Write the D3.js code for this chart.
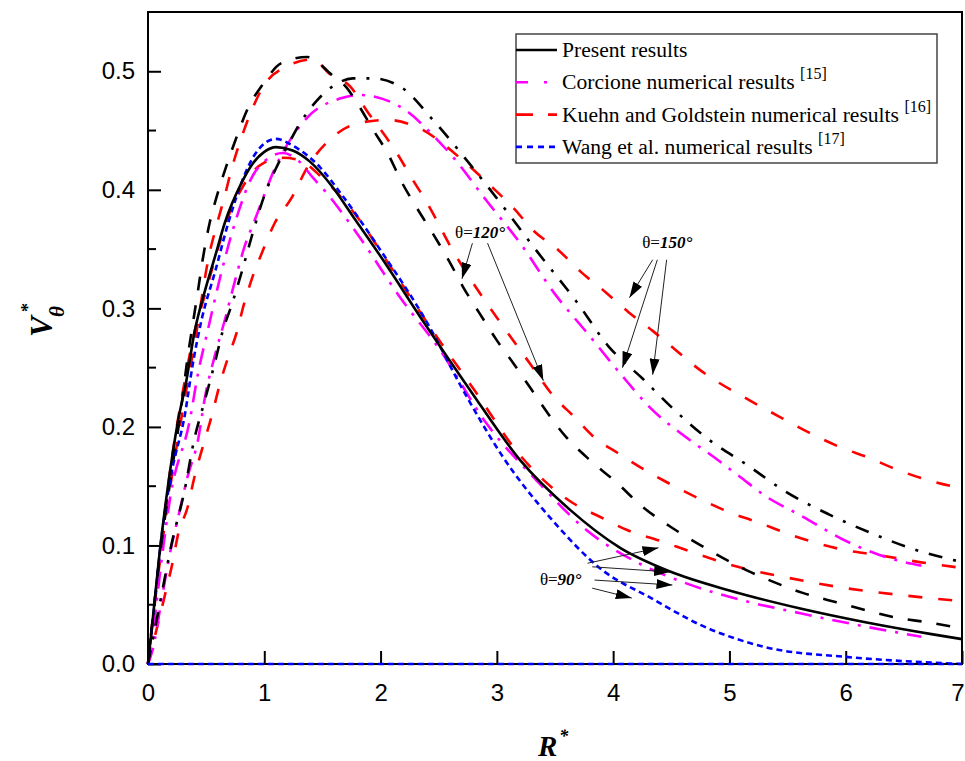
<!DOCTYPE html>
<html>
<head>
<meta charset="utf-8">
<script src="https://cdn.jsdelivr.net/npm/d3@7"></script>
<style>
  body { margin: 0; background: #fff; }
  svg { display: block; }
</style>
</head>
<body>
<svg id="chart" width="965" height="761"></svg>
<script>
// ---- data (R*, V*θ) ----
const xTicks = [0, 1, 2, 3, 4, 5, 6, 7];
const yTicks = [0.0, 0.1, 0.2, 0.3, 0.4, 0.5];
const yMinorTicks = [0.05, 0.15, 0.25, 0.35, 0.45];

// theta = 90
const rPresent90 = [0, 0.04, 0.1, 0.17, 0.26, 0.33, 0.4, 0.49, 0.58, 0.66, 0.8, 0.9, 1.0, 1.1, 1.25, 1.39, 1.59, 1.76, 2.02, 2.36, 2.77, 3.2, 3.63, 4.06, 4.49, 5.0, 5.6, 6.18, 6.75, 7.0];
const vPresent90 = [0, 0.037, 0.094, 0.149, 0.206, 0.239, 0.28, 0.315, 0.345, 0.372, 0.405, 0.422, 0.432, 0.436, 0.433, 0.424, 0.402, 0.378, 0.341, 0.29, 0.231, 0.172, 0.13, 0.098, 0.078, 0.062, 0.047, 0.035, 0.025, 0.021];

const rWang90 = [0, 0.05, 0.12, 0.2, 0.32, 0.38, 0.46, 0.58, 0.69, 0.82, 0.92, 1.1, 1.25, 1.48, 1.65, 2.0, 2.4, 2.71, 3.05, 3.48, 3.91, 4.32, 4.75, 5.32, 6.0, 6.58, 7.0];
const vWang90 = [0, 0.045, 0.11, 0.16, 0.212, 0.25, 0.29, 0.332, 0.372, 0.41, 0.43, 0.443, 0.437, 0.419, 0.398, 0.349, 0.288, 0.231, 0.175, 0.121, 0.079, 0.056, 0.033, 0.014, 0.006, 0.002, 0.0];

const rCorcione90 = [0, 0.04, 0.12, 0.19, 0.36, 0.43, 0.52, 0.62, 0.72, 0.79, 0.88, 1.0, 1.16, 1.3, 1.42, 1.54, 1.65, 1.82, 2.17, 2.51, 2.91, 3.34, 3.77, 4.2, 4.63, 5.1, 5.6, 6.2, 6.65];
const vCorcione90 = [0, 0.025, 0.09, 0.14, 0.206, 0.245, 0.284, 0.326, 0.363, 0.385, 0.408, 0.424, 0.431, 0.424, 0.41, 0.397, 0.383, 0.36, 0.309, 0.265, 0.203, 0.155, 0.113, 0.086, 0.068, 0.054, 0.043, 0.031, 0.023];

const rKuehn90 = [0, 0.1, 0.2, 0.3, 0.4, 0.5, 0.6, 0.7, 0.8, 0.9, 1.0, 1.16, 1.3, 1.5, 1.8, 2.1, 2.4, 2.8, 3.2, 3.65, 3.89, 4.12, 4.4, 4.69, 5.03, 5.49, 6.0, 6.49, 7.0];
const vKuehn90 = [0, 0.09, 0.17, 0.23, 0.28, 0.315, 0.35, 0.38, 0.4, 0.415, 0.423, 0.427, 0.425, 0.41, 0.377, 0.333, 0.288, 0.232, 0.176, 0.136, 0.124, 0.113, 0.104, 0.094, 0.083, 0.073, 0.064, 0.058, 0.053];

// theta = 120
const rPresent120 = [0, 0.1, 0.2, 0.28, 0.34, 0.39, 0.43, 0.47, 0.53, 0.59, 0.67, 0.76, 0.86, 0.98, 1.15, 1.37, 1.58, 1.71, 1.8, 1.94, 2.06, 2.19, 2.31, 2.45, 2.6, 2.71, 2.85, 3.0, 3.14, 3.28, 3.6, 3.8, 4.03, 4.26, 4.49, 4.72, 5.15, 5.41, 5.63, 5.92, 6.15, 6.44, 6.72, 7.0];
const vPresent120 = [0, 0.09, 0.16, 0.212, 0.258, 0.29, 0.315, 0.341, 0.372, 0.394, 0.419, 0.444, 0.469, 0.488, 0.507, 0.512, 0.497, 0.486, 0.473, 0.45, 0.431, 0.405, 0.385, 0.363, 0.338, 0.318, 0.296, 0.273, 0.254, 0.234, 0.191, 0.172, 0.153, 0.132, 0.116, 0.102, 0.079, 0.068, 0.06, 0.052, 0.046, 0.039, 0.035, 0.03];

const rKuehn120 = [0, 0.1, 0.2, 0.3, 0.4, 0.53, 0.59, 0.66, 0.72, 0.8, 0.9, 0.99, 1.17, 1.42, 1.56, 1.74, 1.88, 2.14, 2.28, 2.4, 2.62, 2.88, 3.03, 3.31, 3.47, 3.67, 3.84, 4.04, 4.25, 4.43, 4.75, 5.0, 5.26, 5.5, 5.75, 6.0, 6.27, 6.7, 7.0];
const vKuehn120 = [0, 0.085, 0.155, 0.215, 0.27, 0.347, 0.37, 0.395, 0.418, 0.443, 0.469, 0.487, 0.503, 0.51, 0.498, 0.487, 0.467, 0.431, 0.408, 0.389, 0.349, 0.309, 0.288, 0.25, 0.228, 0.208, 0.191, 0.178, 0.165, 0.155, 0.139, 0.128, 0.119, 0.11, 0.102, 0.096, 0.092, 0.085, 0.081];

// theta = 150
const rPresent150 = [0, 0.1, 0.2, 0.32, 0.39, 0.49, 0.58, 0.64, 0.72, 0.81, 0.89, 1.0, 1.1, 1.2, 1.3, 1.45, 1.6, 1.76, 1.93, 2.17, 2.45, 2.74, 3.03, 3.33, 3.69, 3.96, 4.25, 4.53, 4.8, 5.15, 5.49, 5.86, 6.23, 6.61, 7.0];
const vPresent150 = [0, 0.05, 0.1, 0.149, 0.186, 0.223, 0.256, 0.28, 0.303, 0.332, 0.36, 0.395, 0.418, 0.437, 0.455, 0.475, 0.488, 0.494, 0.494, 0.487, 0.459, 0.425, 0.389, 0.35, 0.305, 0.268, 0.241, 0.214, 0.191, 0.168, 0.145, 0.126, 0.11, 0.096, 0.086];

const rCorcione150 = [0, 0.04, 0.12, 0.19, 0.26, 0.34, 0.43, 0.49, 0.58, 0.66, 0.75, 0.83, 0.92, 1.1, 1.37, 1.65, 1.82, 2.17, 2.49, 2.62, 2.91, 3.2, 3.5, 3.77, 4.07, 4.32, 4.63, 4.86, 5.09, 5.32, 5.6, 6.04, 6.35, 6.65];
const vCorcione150 = [0, 0.012, 0.056, 0.094, 0.124, 0.158, 0.189, 0.225, 0.262, 0.29, 0.324, 0.352, 0.375, 0.42, 0.461, 0.477, 0.48, 0.47, 0.442, 0.428, 0.391, 0.355, 0.312, 0.28, 0.244, 0.216, 0.191, 0.175, 0.158, 0.141, 0.126, 0.102, 0.09, 0.083];

const rKuehn150 = [0, 0.15, 0.21, 0.26, 0.34, 0.4, 0.47, 0.55, 0.62, 0.69, 0.77, 0.81, 0.89, 0.98, 1.09, 1.24, 1.37, 1.56, 1.8, 2.06, 2.31, 2.74, 2.94, 3.14, 3.31, 3.53, 3.72, 3.93, 4.13, 4.34, 4.56, 4.72, 5.2, 5.46, 5.69, 5.95, 6.2, 6.44, 6.71, 7.0];
const vKuehn150 = [0, 0.06, 0.085, 0.11, 0.132, 0.158, 0.183, 0.21, 0.237, 0.259, 0.282, 0.298, 0.324, 0.347, 0.372, 0.394, 0.419, 0.442, 0.456, 0.459, 0.453, 0.422, 0.404, 0.385, 0.366, 0.349, 0.331, 0.314, 0.297, 0.281, 0.263, 0.25, 0.221, 0.207, 0.195, 0.183, 0.174, 0.164, 0.155, 0.148];

// blue zero line along the R axis
const rWangZero = [0, 7];
const vWangZero = [0, 0];

const legendLabels = ["Present results", "Corcione numerical results ", "Kuehn and Goldstein numerical results ", "Wang et al. numerical results "];
const legendRefs = ["", "[15]", "[16]", "[17]"];

// annotation labels (R*, V* of text start) and arrows [R0, V0, R1, V1]
const angleLabels = [
  { eq: "\u03b8=", val: "120\u00b0", r: 2.64, v: 0.359 },
  { eq: "\u03b8=", val: "150\u00b0", r: 4.25, v: 0.351 },
  { eq: "\u03b8=", val: "90\u00b0", r: 3.37, v: 0.0666 }
];
const arrows = [
  [2.79, 0.355, 2.70, 0.325],
  [2.92, 0.355, 3.40, 0.239],
  [4.34, 0.341, 4.14, 0.309],
  [4.38, 0.341, 4.08, 0.25],
  [4.46, 0.341, 4.34, 0.244],
  [3.78, 0.085, 4.39, 0.098],
  [3.82, 0.082, 4.49, 0.0776],
  [3.84, 0.0708, 4.51, 0.0666],
  [3.82, 0.064, 4.16, 0.0556]
];

// ---- styles ----
const styles = {
  present: { color: "#000", dash: null },
  present120: { color: "#000", dash: "14,15" },
  present150: { color: "#000", dash: "14,11,3,11" },
  corcione: { color: "#ff00ff", dash: "17,9,3,9" },
  kuehn: { color: "#ff0000", dash: "14,16" },
  wang: { color: "#0000ff", dash: "6,4" }
};

const series = [
  { r: rKuehn150, v: vKuehn150, s: styles.kuehn },
  { r: rKuehn120, v: vKuehn120, s: styles.kuehn },
  { r: rKuehn90, v: vKuehn90, s: styles.kuehn },
  { r: rCorcione150, v: vCorcione150, s: styles.corcione },
  { r: rCorcione90, v: vCorcione90, s: styles.corcione },
  { r: rPresent150, v: vPresent150, s: styles.present150 },
  { r: rPresent120, v: vPresent120, s: styles.present120 },
  { r: rWang90, v: vWang90, s: styles.wang },
  { r: rPresent90, v: vPresent90, s: styles.present }
];

// ---- layout ----
const plot = { left: 148, right: 962, top: 12, bottom: 664 };

const svg = d3.select("#chart");
const x = d3.scaleLinear().domain([0, 7]).range([plot.left, plot.right]);
const y = d3.scaleLinear().domain([0, 0.55]).range([plot.bottom, plot.top]);

const tickFont = "'Liberation Sans', Arial, sans-serif";
const serif = "'Liberation Serif', 'Times New Roman', serif";

// axes
const xAxis = svg.append("g")
  .attr("transform", `translate(0,${plot.bottom})`)
  .call(d3.axisBottom(x).tickValues(xTicks).tickFormat(d3.format("d"))
    .tickSizeInner(-13).tickSizeOuter(0).tickPadding(20));

const yAxis = svg.append("g")
  .attr("transform", `translate(${plot.left},0)`)
  .call(d3.axisLeft(y).tickValues(yTicks).tickFormat(d3.format(".1f"))
    .tickSizeInner(-13).tickSizeOuter(0).tickPadding(13));

[xAxis, yAxis].forEach(a => {
  a.select(".domain").remove();
  a.selectAll(".tick line").attr("stroke", "#000").attr("stroke-width", 2);
  a.selectAll(".tick text").attr("font-family", tickFont).attr("font-size", 24).attr("fill", "#000");
});
// last x label sits right at the window edge
xAxis.selectAll(".tick text").filter(d => d === 7).attr("text-anchor", "end").attr("dx", 2);

svg.append("g").selectAll("line")
  .data(yMinorTicks)
  .enter().append("line")
  .attr("x1", plot.left).attr("x2", plot.left + 8)
  .attr("y1", d => y(d)).attr("y2", d => y(d))
  .attr("stroke", "#000").attr("stroke-width", 2);

// curves
const line = d3.line()
  .x(d => x(d[0]))
  .y(d => y(d[1]))
  .curve(d3.curveMonotoneX);

svg.append("g")
  .attr("fill", "none")
  .selectAll("path")
  .data(series)
  .enter().append("path")
  .attr("d", d => line(d.r.map((r, i) => [r, d.v[i]])))
  .attr("stroke", d => d.s.color)
  .attr("stroke-width", 2.6)
  .attr("stroke-dasharray", d => d.s.dash);

// frame
svg.append("rect")
  .attr("x", plot.left).attr("y", plot.top)
  .attr("width", plot.right - plot.left).attr("height", plot.bottom - plot.top)
  .attr("fill", "none").attr("stroke", "#000").attr("stroke-width", 2);

svg.append("path")
  .attr("d", line(rWangZero.map((r, i) => [r, vWangZero[i]])))
  .attr("fill", "none")
  .attr("stroke", styles.wang.color)
  .attr("stroke-width", 2.6)
  .attr("stroke-dasharray", styles.wang.dash);

// arrows
svg.append("defs").append("marker")
  .attr("id", "head")
  .attr("viewBox", "0 0 16 10")
  .attr("refX", 16).attr("refY", 5)
  .attr("markerWidth", 16).attr("markerHeight", 10)
  .attr("markerUnits", "userSpaceOnUse")
  .attr("orient", "auto")
  .append("path")
  .attr("d", "M0,0 L16,5 L0,10 Z")
  .attr("fill", "#000");

svg.append("g").selectAll("line")
  .data(arrows)
  .enter().append("line")
  .attr("x1", d => x(d[0])).attr("y1", d => y(d[1]))
  .attr("x2", d => x(d[2])).attr("y2", d => y(d[3]))
  .attr("stroke", "#222").attr("stroke-width", 1)
  .attr("marker-end", "url(#head)");

const ann = svg.append("g").selectAll("text")
  .data(angleLabels)
  .enter().append("text")
  .attr("x", d => x(d.r)).attr("y", d => y(d.v))
  .attr("font-family", serif).attr("font-size", 17).attr("fill", "#000");
ann.append("tspan").text(d => d.eq);
ann.append("tspan").attr("font-weight", "bold").attr("font-style", "italic").text(d => d.val);

// legend
const lg = svg.append("g");
lg.append("rect")
  .attr("x", 516).attr("y", 34).attr("width", 421).attr("height", 129)
  .attr("fill", "#fff").attr("stroke", "#444").attr("stroke-width", 1.5);

const legendStyles = [styles.present, styles.corcione, styles.kuehn, styles.wang];
const legendDash = [null, "12,16,3,20", "17,15,10,20", "6,5"];
legendLabels.forEach((lab, i) => {
  const cy = 50 + i * 32.3;
  lg.append("line")
    .attr("x1", 516).attr("x2", 557).attr("y1", cy).attr("y2", cy)
    .attr("stroke", legendStyles[i].color).attr("stroke-width", 2.6)
    .attr("stroke-dasharray", legendDash[i]);
  const t = lg.append("text")
    .attr("x", 562).attr("y", cy + 7)
    .attr("font-family", serif).attr("font-size", 21.6).attr("fill", "#000");
  t.append("tspan").text(lab);
  if (legendRefs[i]) {
    t.append("tspan").attr("font-size", 16).attr("dy", -10).text(legendRefs[i]);
  }
});

// axis titles
const yt = svg.append("g").attr("transform", "translate(45,325) rotate(-90)");
yt.append("text").attr("x", -12).attr("y", 7)
  .attr("font-family", serif).attr("font-size", 31).attr("font-weight", "bold").attr("font-style", "italic")
  .text("V");
yt.append("text").attr("x", 13).attr("y", -11)
  .attr("font-family", serif).attr("font-size", 18).attr("font-weight", "bold")
  .text("*");
yt.append("text").attr("x", 8).attr("y", 19)
  .attr("font-family", serif).attr("font-size", 21).attr("font-weight", "bold").attr("font-style", "italic")
  .text("\u03b8");

const xt = svg.append("text").attr("x", 538).attr("y", 756)
  .attr("font-family", serif).attr("font-size", 29).attr("font-weight", "bold").attr("font-style", "italic");
xt.append("tspan").text("R");
xt.append("tspan").attr("font-size", 18).attr("dy", -14).attr("dx", 2).text("*");
</script>
</body>
</html>
